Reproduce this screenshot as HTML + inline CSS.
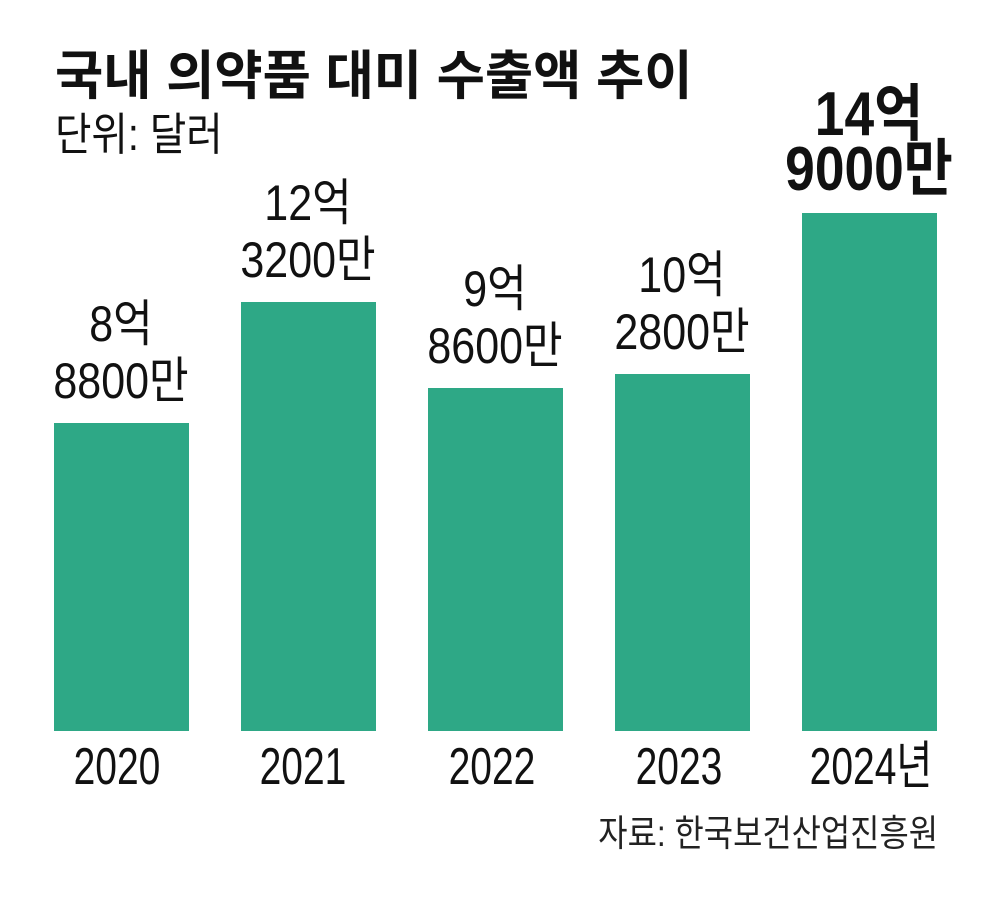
<!DOCTYPE html>
<html><head><meta charset="utf-8"><style>
body{margin:0;width:1000px;height:899px;background:#fff;position:relative;overflow:hidden;font-family:"Liberation Sans","Noto Sans CJK KR",sans-serif;color:#111}
.a{position:absolute;white-space:nowrap}
.c{position:absolute;white-space:nowrap;transform:translateX(-50%) scaleX(0.86);text-align:center}
.bar{position:absolute;background:#2ea886;width:135px}
.l{font-size:50px;line-height:57px}
.y{font-size:52px;line-height:52px;transform:translateX(-50%) scaleX(0.75)}
</style></head><body>
<div class="a" style="left:55px;top:45px;font-size:53px;line-height:64px;font-weight:bold;transform:scaleX(0.99);transform-origin:left">국내 의약품 대미 수출액 추이</div>
<div class="a" style="left:55px;top:107px;font-size:45px;line-height:56px;transform:scaleX(0.88);transform-origin:left">단위: 달러</div>

<div class="bar" style="left:54px;top:423px;height:308px"></div>
<div class="bar" style="left:241px;top:302px;height:429px"></div>
<div class="bar" style="left:428px;top:388px;height:343px"></div>
<div class="bar" style="left:615px;top:374px;height:357px"></div>
<div class="bar" style="left:802px;top:213px;height:518px"></div>

<div class="c l" style="left:121px;top:296px">8억<br>8800만</div>
<div class="c l" style="left:308px;top:175px">12억<br>3200만</div>
<div class="c l" style="left:495px;top:261px">9억<br>8600만</div>
<div class="c l" style="left:682px;top:247px">10억<br>2800만</div>
<div class="c" style="left:869px;top:87px;font-size:62px;line-height:55px;font-weight:bold">14억<br>9000만</div>

<div class="c y" style="left:117px;top:741px">2020</div>
<div class="c y" style="left:303px;top:741px">2021</div>
<div class="c y" style="left:492px;top:741px">2022</div>
<div class="c y" style="left:679px;top:741px">2023</div>
<div class="c y" style="left:871px;top:741px">2024년</div>

<div class="a" style="right:62px;top:811px;font-size:37px;line-height:46px;transform:scaleX(0.86);transform-origin:right;color:#222">자료: 한국보건산업진흥원</div>
</body></html>
